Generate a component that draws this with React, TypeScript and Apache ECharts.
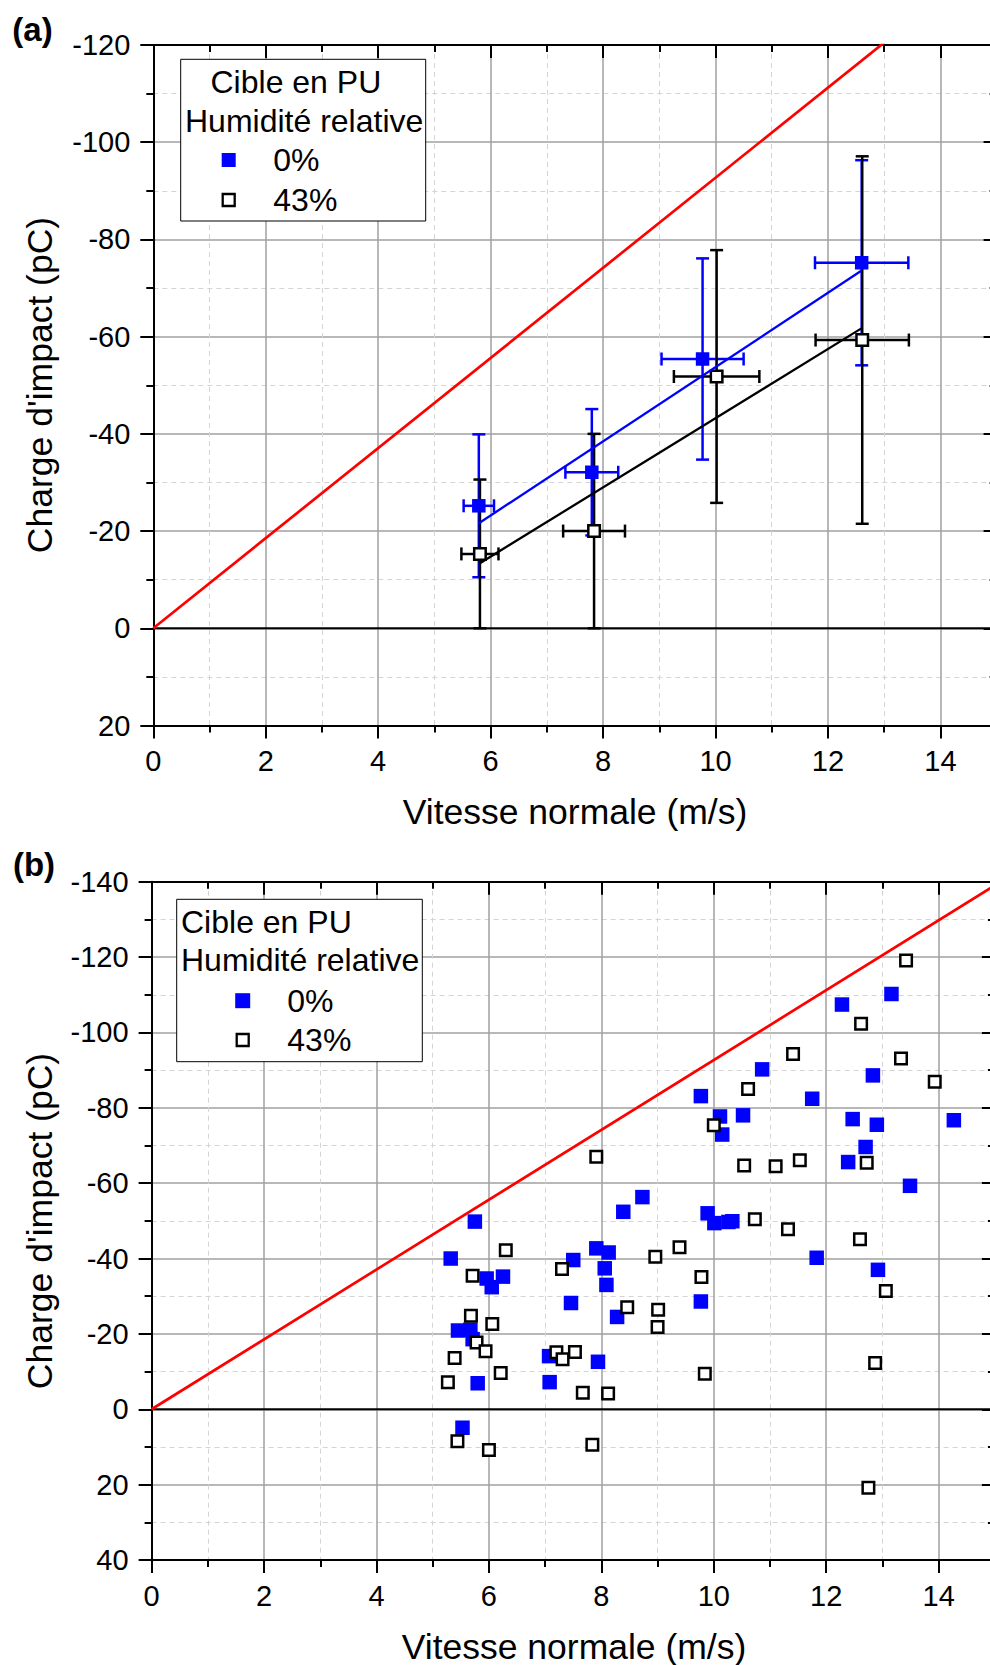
import React, { useEffect, useRef } from "react";
import * as echarts from "echarts";

// ---------- Panel (a): means with error bars ----------
const aBlueX = [5.79, 7.8, 9.77, 12.6];
const aBlueY = [-25.2, -32.1, -55.4, -75.2];
const aBlueXErr = [0.27, 0.47, 0.73, 0.83];
const aBlueYErr = [14.7, 13.0, 20.7, 21.1];
const aBlackX = [5.81, 7.84, 10.02, 12.61];
const aBlackY = [-15.3, -20.0, -51.8, -59.3];
const aBlackXErr = [0.33, 0.55, 0.76, 0.83];
const aBlackYErr = [15.3, 20.0, 26.0, 37.8];
const aBlueFitX = [5.79, 12.6];
const aBlueFitY = [-21.6, -73.6];
const aBlackFitX = [5.81, 12.61];
const aBlackFitY = [-13.4, -61.8];

// limit line and zero line (both panels)
const limitX = [0, 16];
const limitY = [0, -148.3];
const zeroX = [0, 16];
const zeroY = [0, 0];

// ---------- Panel (b): individual impacts ----------
const b0X = [5.32, 5.45, 5.53, 5.67, 5.71, 5.75, 5.8, 5.96, 6.05, 6.25, 7.07, 7.08, 7.46, 7.5, 7.91, 7.94, 8.06, 8.09, 8.13, 8.28, 8.39, 8.73, 9.77, 9.77, 9.89, 10.01, 10.11, 10.15, 10.26, 10.33, 10.52, 10.86, 11.75, 11.83, 12.28, 12.39, 12.47, 12.7, 12.83, 12.9, 12.92, 13.16, 13.49, 14.27];
const b0Y = [-40.0, -20.9, 4.9, -21.1, -18.6, -49.8, -6.9, -34.7, -32.4, -35.2, -14.1, -7.2, -28.2, -39.6, -42.7, -12.6, -37.4, -33.0, -41.6, -24.5, -52.4, -56.3, -28.6, -83.1, -52.0, -49.4, -77.7, -72.9, -49.7, -49.9, -78.0, -90.2, -82.4, -40.2, -107.4, -65.6, -77.0, -69.6, -88.6, -75.5, -37.0, -110.2, -59.3, -76.7];
const b43X = [5.27, 5.39, 5.44, 5.68, 5.71, 5.78, 5.94, 6.0, 6.06, 6.21, 6.3, 7.2, 7.3, 7.31, 7.53, 7.67, 7.84, 7.91, 8.12, 8.46, 8.96, 9.0, 9.01, 9.39, 9.78, 9.84, 10.0, 10.54, 10.61, 10.73, 11.1, 11.32, 11.41, 11.53, 12.6, 12.62, 12.72, 12.75, 12.87, 13.06, 13.33, 13.42, 13.93];
const b43Y = [-7.2, -13.6, 8.5, -24.8, -35.4, -17.7, -15.4, 10.8, -22.6, -9.6, -42.2, -15.1, -37.2, -13.3, -15.2, -4.4, 9.4, -67.0, -4.2, -27.1, -40.5, -21.8, -26.4, -43.0, -35.1, -9.4, -75.4, -64.7, -85.0, -50.4, -64.5, -47.8, -94.3, -66.1, -45.1, -102.3, -65.4, 20.8, -12.3, -31.4, -93.1, -119.1, -86.9];

// axis ranges
const xMin = 0;
const xMax = 16;
const xStep = 2;
const aYMin = -120;
const aYMax = 20;
const bYMin = -140;
const bYMax = 40;
const yStep = 20;

// texts
const xTitle = "Vitesse normale (m/s)";
const yTitle = "Charge d'impact (pC)";
const legendTitle1 = "Cible en PU";
const legendTitle2 = "Humidité relative";
const legendNames = ["0%", "43%"];
const panelLabels = ["(a)", "(b)"];

const FONT = "'Liberation Sans', Arial, Helvetica, sans-serif";
const BLUE = "#0000ff";
const UNIT_X = 56.22;
const TICK_FS = 29;
const TITLE_FS = 35.5;
const LEGEND_FS = 32;

const pairs = (xs: number[], ys: number[]) => xs.map((x, i) => [x, ys[i]]);
const quads = (xs: number[], ys: number[], ex: number[], ey: number[]) =>
  xs.map((x, i) => [x, ys[i], ex[i], ey[i]]);

function xAxes(gridIndex: number) {
  const line = { show: true, onZero: false, lineStyle: { color: "#000", width: 2 } };
  return [
    {
      type: "value", gridIndex, position: "bottom", min: xMin, max: xMax, interval: xStep,
      axisLine: line,
      axisTick: { show: true, length: 13, lineStyle: { color: "#000", width: 2 } },
      minorTick: { show: true, splitNumber: 2, length: 7, lineStyle: { color: "#000", width: 2 } },
      axisLabel: { show: true, margin: 21, fontSize: TICK_FS, color: "#000", fontFamily: FONT, showMaxLabel: false },
      splitLine: { show: true, showMinLine: false, showMaxLine: false, lineStyle: { color: "#a0a0a0", width: 1.5 } },
      minorSplitLine: { show: true, lineStyle: { color: "#d4d4d4", width: 1, type: [5, 4] } },
    },
    {
      type: "value", gridIndex, position: "top", min: xMin, max: xMax, interval: xStep,
      axisLine: line,
      axisTick: { show: true, inside: true, length: 13, lineStyle: { color: "#000", width: 2 } },
      minorTick: { show: true, splitNumber: 2, length: 7, lineStyle: { color: "#000", width: 2 } },
      axisLabel: { show: false },
      splitLine: { show: false },
      minorSplitLine: { show: false },
    },
  ];
}

function yAxes(gridIndex: number, min: number, max: number) {
  const line = { show: true, onZero: false, lineStyle: { color: "#000", width: 2 } };
  return [
    {
      type: "value", gridIndex, position: "left", min, max, interval: yStep, inverse: true,
      axisLine: line,
      axisTick: { show: true, length: 13, lineStyle: { color: "#000", width: 2 } },
      minorTick: { show: true, splitNumber: 2, length: 7, lineStyle: { color: "#000", width: 2 } },
      axisLabel: { show: true, margin: 23, fontSize: TICK_FS, color: "#000", fontFamily: FONT },
      splitLine: { show: true, showMinLine: false, showMaxLine: false, lineStyle: { color: "#a0a0a0", width: 1.5 } },
      minorSplitLine: { show: true, lineStyle: { color: "#d4d4d4", width: 1, type: [5, 4] } },
    },
    {
      type: "value", gridIndex, position: "right", offset: -UNIT_X, min, max, interval: yStep, inverse: true,
      axisLine: line,
      axisTick: { show: true, inside: true, length: 13, lineStyle: { color: "#000", width: 2 } },
      minorTick: { show: true, splitNumber: 2, length: 7, lineStyle: { color: "#000", width: 2 } },
      axisLabel: { show: false },
      splitLine: { show: false },
      minorSplitLine: { show: false },
    },
  ];
}

function errSeries(data: number[][], color: string, axisIndex: number) {
  return {
    type: "custom",
    xAxisIndex: axisIndex,
    yAxisIndex: axisIndex,
    data,
    encode: { x: 0, y: 1 },
    renderItem: (_params: any, api: any) => {
      const x = api.value(0);
      const y = api.value(1);
      const ex = api.value(2);
      const ey = api.value(3);
      const t = api.coord([x, y - ey]);
      const b = api.coord([x, y + ey]);
      const l = api.coord([x - ex, y]);
      const r = api.coord([x + ex, y]);
      const c = 6.5;
      const style = { stroke: color, lineWidth: 2.5, fill: "none" };
      return {
        type: "group",
        children: [
          { type: "line", shape: { x1: t[0], y1: t[1], x2: b[0], y2: b[1] }, style },
          { type: "line", shape: { x1: t[0] - c, y1: t[1], x2: t[0] + c, y2: t[1] }, style },
          { type: "line", shape: { x1: b[0] - c, y1: b[1], x2: b[0] + c, y2: b[1] }, style },
          { type: "line", shape: { x1: l[0], y1: l[1], x2: r[0], y2: r[1] }, style },
          { type: "line", shape: { x1: l[0], y1: l[1] - c, x2: l[0], y2: l[1] + c }, style },
          { type: "line", shape: { x1: r[0], y1: r[1] - c, x2: r[0], y2: r[1] + c }, style },
        ],
      };
    },
  };
}

function lineSeries(xs: number[], ys: number[], color: string, width: number, axisIndex: number) {
  return {
    type: "line",
    xAxisIndex: axisIndex,
    yAxisIndex: axisIndex,
    data: pairs(xs, ys),
    symbol: "none",
    clip: true,
    lineStyle: { color, width },
  };
}

function blueScatter(xs: number[], ys: number[], axisIndex: number, size: number) {
  return {
    type: "scatter",
    xAxisIndex: axisIndex,
    yAxisIndex: axisIndex,
    data: pairs(xs, ys),
    symbol: "rect",
    symbolSize: size,
    itemStyle: { color: BLUE, opacity: 1 },
  };
}

function openScatter(xs: number[], ys: number[], axisIndex: number) {
  return {
    type: "scatter",
    xAxisIndex: axisIndex,
    yAxisIndex: axisIndex,
    data: pairs(xs, ys),
    symbol: "rect",
    symbolSize: 11.5,
    itemStyle: { color: "#fff", borderColor: "#000", borderWidth: 2.5, opacity: 1 },
  };
}

function txt(text: string, x: number, y: number, size: number, align = "left", weight = "normal", rotation = 0) {
  return {
    type: "text",
    x,
    y,
    rotation,
    z: 100,
    style: {
      text,
      fontSize: size,
      fontFamily: FONT,
      fontWeight: weight,
      fill: "#000",
      align,
      verticalAlign: "middle",
      textAlign: align,
      textVerticalAlign: "middle",
    },
  };
}

function legend(bx: number, by: number, bw: number, bh: number, t1x: number, t1y: number, t2x: number, t2y: number, mx: number, my0: number, my1: number, lx: number, bs: number) {
  return [
    { type: "rect", z: 99, shape: { x: bx, y: by, width: bw, height: bh }, style: { fill: "#fff", stroke: "#000", lineWidth: 1 } },
    txt(legendTitle1, t1x, t1y, LEGEND_FS),
    txt(legendTitle2, t2x, t2y, LEGEND_FS),
    { type: "rect", z: 100, shape: { x: mx - bs / 2, y: my0 - bs / 2, width: bs, height: bs }, style: { fill: BLUE, stroke: "none" } },
    { type: "rect", z: 100, shape: { x: mx - 6, y: my1 - 6, width: 12, height: 12 }, style: { fill: "#fff", stroke: "#000", lineWidth: 2.3 } },
    txt(legendNames[0], lx, my0, LEGEND_FS),
    txt(legendNames[1], lx, my1, LEGEND_FS),
  ];
}

const option: any = {
  animation: false,
  backgroundColor: "#fff",
  textStyle: { fontFamily: FONT },
  grid: [
    { left: 153.3, top: 45, width: UNIT_X * (xMax - xMin), height: 680.5 },
    { left: 151.6, top: 881.7, width: UNIT_X * (xMax - xMin), height: 678.3 },
  ],
  xAxis: [...xAxes(0), ...xAxes(1)],
  yAxis: [...yAxes(0, aYMin, aYMax), ...yAxes(1, bYMin, bYMax)],
  series: [
    // panel (a)
    lineSeries(zeroX, zeroY, "#000", 2, 0),
    lineSeries(limitX, limitY, "#ff0000", 2.7, 0),
    lineSeries(aBlackFitX, aBlackFitY, "#000", 2.3, 0),
    lineSeries(aBlueFitX, aBlueFitY, BLUE, 2.3, 0),
    errSeries(quads(aBlueX, aBlueY, aBlueXErr, aBlueYErr), BLUE, 0),
    blueScatter(aBlueX, aBlueY, 0, 13.5),
    errSeries(quads(aBlackX, aBlackY, aBlackXErr, aBlackYErr), "#000", 0),
    openScatter(aBlackX, aBlackY, 0),
    // panel (b)
    lineSeries(zeroX, zeroY, "#000", 2, 2),
    lineSeries(limitX, limitY, "#ff0000", 2.7, 2),
    blueScatter(b0X, b0Y, 2, 14.5),
    openScatter(b43X, b43Y, 2),
  ],
  graphic: [
    txt(panelLabels[0], 32.5, 29, 33, "center", "bold"),
    txt(panelLabels[1], 34, 864, 33, "center", "bold"),
    txt(xTitle, 575, 811.5, TITLE_FS, "center"),
    txt(xTitle, 574, 1646.5, TITLE_FS, "center"),
    txt(yTitle, 40, 385, TITLE_FS, "center", "normal", Math.PI / 2),
    txt(yTitle, 40, 1221, TITLE_FS, "center", "normal", Math.PI / 2),
    ...legend(180.7, 59.3, 245, 161.7, 210.5, 82, 185, 121.3, 228.7, 160, 200, 273.3, 14),
    ...legend(176.7, 899.3, 245.6, 162.4, 181, 921.7, 181, 960, 242.7, 1000.7, 1040, 287.3, 15),
  ],
};

export default function App() {
  const ref = useRef<HTMLDivElement>(null);
  useEffect(() => {
    if (!ref.current) return;
    const chart = echarts.init(ref.current, null, { renderer: "svg" });
    chart.setOption(option);
    return () => chart.dispose();
  }, []);
  return (
    <div style={{ position: "absolute", left: 0, top: 0, width: 990, height: 1665, overflow: "hidden", background: "#fff" }}>
      <div ref={ref} style={{ width: 1080, height: 1665 }} />
    </div>
  );
}
